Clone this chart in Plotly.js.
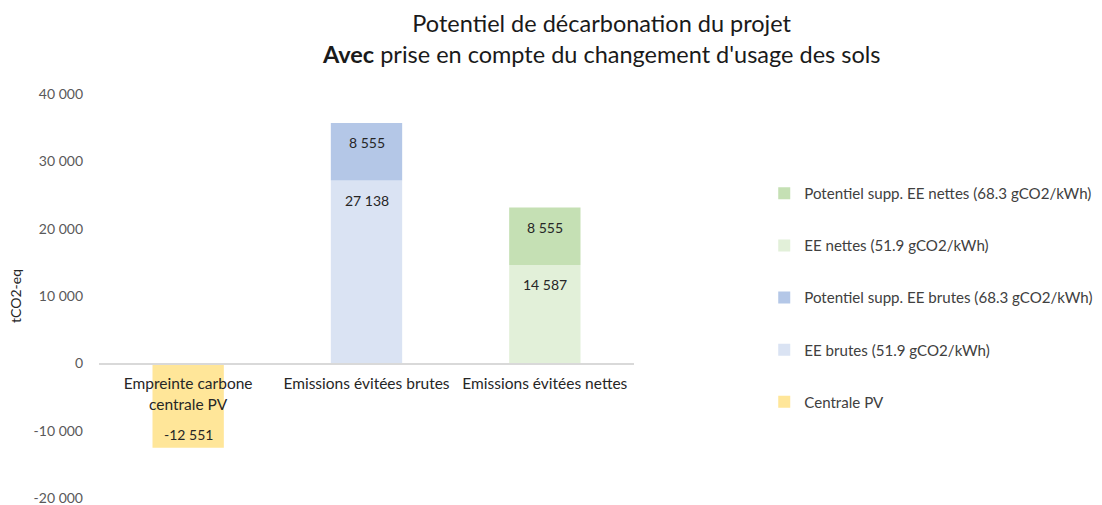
<!DOCTYPE html>
<html>
<head>
<meta charset="utf-8">
<script src="https://cdn.plot.ly/plotly-3.0.1.min.js"></script>
<style>
  html, body { margin: 0; padding: 0; background: #fff; }
  #chart { width: 1102px; height: 505px; }
</style>
</head>
<body>
<div id="chart"></div>
<script>
// categories on the x axis
const categories = ["Empreinte carbone<br>centrale PV", "Emissions évitées brutes", "Emissions évitées nettes"];

// series values (tCO2-eq), one value per category
const centralePV = [-12551, null, null];
const eeBrutes = [null, 27138, null];
const potBrutes = [null, 8555, null];
const eeNettes = [null, null, 14587];
const potNettes = [null, null, 8555];

const seriesNames = [
  "Centrale PV",
  "EE brutes (51.9 gCO2/kWh)",
  "Potentiel supp. EE brutes (68.3 gCO2/kWh)",
  "EE nettes (51.9 gCO2/kWh)",
  "Potentiel supp. EE nettes (68.3 gCO2/kWh)"
];
const seriesValues = [centralePV, eeBrutes, potBrutes, eeNettes, potNettes];
const seriesColors = ["#FFE699", "#DAE3F3", "#B4C7E7", "#E2F0D9", "#C5E0B4"];

const yTicks = [-20000, -10000, 0, 10000, 20000, 30000, 40000];

const FONT = "Lato, 'Open Sans', sans-serif";

function fmt(v) {
  let s = Math.abs(v).toString().replace(/\B(?=(\d{3})+(?!\d))/g, " ");
  return (v < 0 ? "-" : "") + s;
}

let traces = seriesValues.map(function (vals, i) {
  return {
    type: "bar",
    x: categories,
    y: vals,
    name: seriesNames[i],
    legendgroup: "g" + i,
    legendrank: 1000 - i,
    marker: { color: seriesColors[i], line: { width: 0 } },
    hoverinfo: "name+y"
  };
});

// labels near the top end of each segment (bottom end for negatives)
let annotations = [];
let posBase = [0, 0, 0];
seriesValues.forEach(function (vals) {
  vals.forEach(function (v, c) {
    if (v === null) return;
    if (v >= 0) {
      posBase[c] += v;
      annotations.push({
        x: categories[c], y: posBase[c], xref: "x", yref: "y",
        text: fmt(v), showarrow: false, yanchor: "top", yshift: -9,
        font: { family: FONT, size: 14, color: "#262626" }
      });
    } else {
      annotations.push({
        x: categories[c], y: v, xref: "x", yref: "y",
        text: fmt(v), showarrow: false, yanchor: "bottom", yshift: 3,
        font: { family: FONT, size: 14, color: "#262626" }
      });
    }
  });
});

let layout = {
  width: 1102,
  height: 505,
  paper_bgcolor: "#ffffff",
  plot_bgcolor: "#ffffff",
  separators: ", ",
  font: { family: FONT, size: 15.5, color: "#404040" },
  margin: { l: 99, r: 468, t: 94, b: 7 },
  barmode: "relative",
  bargap: 0.6,
  title: {
    text: "Potentiel de décarbonation du projet<br><b>Avec</b> prise en compte du changement d'usage des sols",
    font: { family: FONT, size: 23.5, color: "#1a1a1a" },
    xref: "container", x: 0.546, xanchor: "center",
    yref: "container", y: 0.936, yanchor: "top"
  },
  xaxis: {
    type: "category",
    anchor: "free",
    position: 1 / 3,
    showline: true,
    linecolor: "#d9d9d9",
    linewidth: 1.5,
    ticks: "",
    showgrid: false,
    ticklabelstandoff: 6,
    tickfont: { family: FONT, size: 15.5, color: "#262626" },
    automargin: false,
    fixedrange: true
  },
  yaxis: {
    range: [-20000, 40000],
    tickvals: yTicks,
    ticktext: yTicks.map(fmt),
    showgrid: false,
    zeroline: false,
    showline: false,
    ticks: "",
    ticklabelstandoff: 15,
    ticklabeloverflow: "allow",
    tickfont: { family: FONT, size: 14, color: "#595959" },
    title: { text: "tCO2-eq", font: { family: FONT, size: 14, color: "#262626" }, standoff: 8 },
    automargin: false,
    fixedrange: true
  },
  legend: {
    x: 0.6935, xanchor: "left", xref: "container",
    y: 0.41, yanchor: "middle", yref: "container",
    traceorder: "grouped",
    tracegroupgap: 29.5,
    font: { family: FONT, size: 15.1, color: "#404040" },
    itemwidth: 30
  },
  annotations: annotations,
  showlegend: true
};

Plotly.newPlot("chart", traces, layout, { displayModeBar: false, staticPlot: true });
</script>
</body>
</html>
